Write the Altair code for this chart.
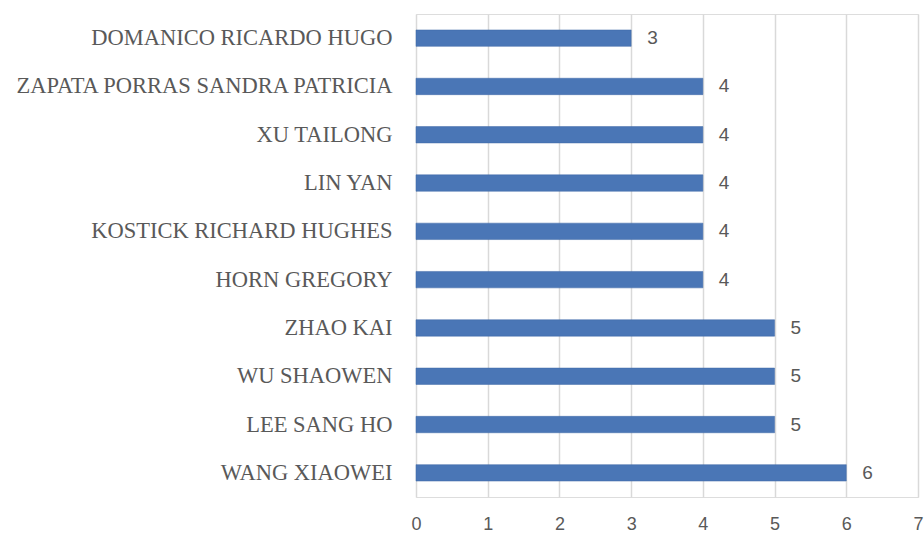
import altair as alt
import pandas as pd

names = [
    "DOMANICO RICARDO HUGO",
    "ZAPATA PORRAS SANDRA PATRICIA",
    "XU TAILONG",
    "LIN YAN",
    "KOSTICK RICHARD HUGHES",
    "HORN GREGORY",
    "ZHAO KAI",
    "WU SHAOWEN",
    "LEE SANG HO",
    "WANG XIAOWEI",
]
counts = [3, 4, 4, 4, 4, 4, 5, 5, 5, 6]
ticks = [0, 1, 2, 3, 4, 5, 6, 7]

df = pd.DataFrame({"name": names, "count": counts})

y = alt.Y("name:N", sort=names, title=None,
          scale=alt.Scale(paddingInner=0.66, paddingOuter=0.33),
          axis=alt.Axis(labelFont="Liberation Serif", labelFontSize=22.5,
                        labelColor="#595959", ticks=False, domain=False,
                        labelPadding=24, labelLimit=420))
x = alt.X("count:Q", title=None,
          scale=alt.Scale(domain=[0, 7], nice=False),
          axis=alt.Axis(values=ticks, labelOverlap=False, format="d",
                        labelFont="Liberation Sans", labelFontSize=18,
                        labelColor="#595959", ticks=False, domain=False,
                        gridColor="#d9d9d9", gridWidth=1.5,
                        labelPadding=18, labelFlush=False))

bars = alt.Chart(df).mark_bar(color="#4a76b6", stroke="#3f68a6", strokeWidth=0.5).encode(x=x, y=y)
text = alt.Chart(df).mark_text(align="left", dx=16, font="Liberation Sans",
                               fontSize=19, color="#595959").encode(
    x="count:Q", y=alt.Y("name:N", sort=names), text="count:Q")

chart = (bars + text).properties(
    width=502, height=483,
    autosize=alt.AutoSizeParams(type="none"),
    padding={"left": 416, "top": 14, "right": 6, "bottom": 40},
).configure_view(stroke=None).configure(background="white")

chart.save("out.html", embed_options={"renderer": "svg", "actions": False})
